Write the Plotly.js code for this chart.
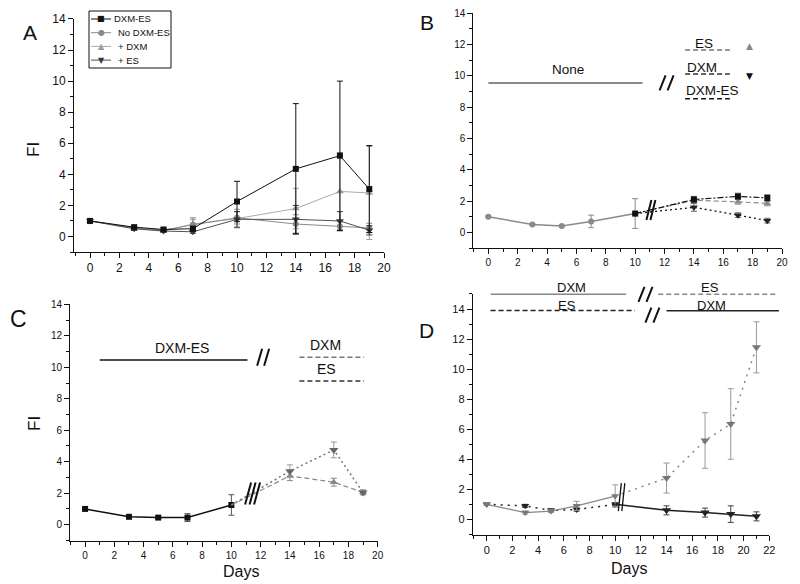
<!DOCTYPE html>
<html><head><meta charset="utf-8">
<script src="https://cdn.plot.ly/plotly-3.0.1.min.js"></script>
<style>html,body{margin:0;padding:0;background:#fff}</style>
</head><body><div id="chart" style="width:800px;height:584px"></div>
<script>
// ---------------- data ----------------
// Panel A
const daysA = [0, 3, 5, 7, 10, 14, 17, 19];
const dxmEsA = [1.0, 0.6, 0.45, 0.5, 2.25, 4.35, 5.2, 3.05];
const dxmEsAErr = [0.05, 0.1, 0.1, 0.15, 1.3, 4.2, 4.8, 2.8];
const noDxmEsA = [1.0, 0.55, 0.4, 0.75, 1.2, 0.8, 0.65, 0.55];
const noDxmEsAErr = [0.05, 0.1, 0.05, 0.45, 0.4, 0.6, 0.3, 0.3];
const plusDxmA = [1.0, 0.5, 0.35, 0.8, 1.15, 1.8, 2.9, 2.8];
const plusDxmAErr = [0.05, 0.1, 0.05, 0.3, 0.6, 1.3, 2.5, 3.0];
const plusEsA = [1.0, 0.5, 0.35, 0.3, 1.1, 1.1, 1.0, 0.4];
const plusEsAErr = [0.05, 0.1, 0.05, 0.1, 0.5, 0.9, 0.6, 0.3];
const legendA = ["DXM-ES", "No DXM-ES", "+ DXM", "+ ES"];

// Panel B
const daysPreB = [0, 3, 5, 7, 10];
const noneB = [1.0, 0.5, 0.4, 0.7, 1.2];
const noneBErr = [0.05, 0.05, 0.05, 0.4, 0.95];
const daysPostB = [10, 14, 17, 19];
const esB = [1.2, 2.05, 1.95, 1.85];
const esBErr = [0, 0.2, 0.15, 0.15];
const dxmB = [1.2, 1.6, 1.1, 0.75];
const dxmBErr = [0, 0.25, 0.15, 0.15];
const dxmEsB = [1.2, 2.1, 2.3, 2.2];
const dxmEsBErr = [0, 0.2, 0.2, 0.2];

// Panel C
const daysPreC = [0, 3, 5, 7, 10];
const dxmEsC = [1.0, 0.5, 0.45, 0.45, 1.25];
const dxmEsCErr = [0.05, 0.05, 0.05, 0.25, 0.65];
const daysPostC = [10, 14, 17, 19];
const dxmC = [1.25, 3.4, 4.75, 2.05];
const dxmCErr = [0, 0.4, 0.5, 0.15];
const esC = [1.25, 3.1, 2.7, 2.05];
const esCErr = [0, 0.3, 0.25, 0.15];

// Panel D
const daysPreD = [0, 3, 5, 7, 10];
const daysPostD = [10, 14, 17, 19, 21];
const dxmThenEsPre = [1.0, 0.45, 0.55, 0.9, 1.55];
const dxmThenEsPreErr = [0.05, 0.1, 0.1, 0.3, 0.75];
const dxmThenEsPost = [1.55, 2.75, 5.25, 6.35, 11.45];
const dxmThenEsPostErr = [0, 1.0, 1.85, 2.35, 1.7];
const esThenDxmPre = [1.0, 0.9, 0.6, 0.65, 1.0];
const esThenDxmPreErr = [0.05, 0.1, 0.1, 0.1, 0.1];
const esThenDxmPost = [1.0, 0.6, 0.45, 0.35, 0.2];
const esThenDxmPostErr = [0, 0.3, 0.3, 0.55, 0.3];

const xTicks = [0, 2, 4, 6, 8, 10, 12, 14, 16, 18, 20, 22];
const yTicks = [0, 2, 4, 6, 8, 10, 12, 14];

// ---------------- layout geometry ----------------
const W = 800, H = 584;
const G = {
  A: {x: 'x',  y: 'y',  xd: [0.0925, 0.48],   yd: [0.5685, 0.9675], xr: [-1.09, 20], yr: [-1, 14],    fs: 12},
  B: {x: 'x2', y: 'y2', xd: [0.5917, 0.9775], yd: [0.5748, 0.9772], xr: [-1.02, 20], yr: [-1.02, 14], fs: 10},
  C: {x: 'x3', y: 'y3', xd: [0.0875, 0.4721], yd: [0.0741, 0.4789], xr: [-1.03, 20], yr: [-1.02, 14], fs: 10},
  D: {x: 'x4', y: 'y4', xd: [0.5909, 0.9616], yd: [0.0839, 0.4966], xr: [-1.09, 22], yr: [-1.04, 15], fs: 11}
};
const FONT = 'Liberation Sans, Arial, Helvetica, sans-serif';

function toPaper(p, x, y) {
  const g = G[p];
  return [g.xd[0] + (x - g.xr[0]) / (g.xr[1] - g.xr[0]) * (g.xd[1] - g.xd[0]),
          g.yd[0] + (y - g.yr[0]) / (g.yr[1] - g.yr[0]) * (g.yd[1] - g.yd[0])];
}
const shapes = [];
const annotations = [];
function hline(p, x0, x1, y, color, width, dash) {
  const a = toPaper(p, x0, y), b = toPaper(p, x1, y);
  shapes.push({type: 'line', xref: 'paper', yref: 'paper', x0: a[0], x1: b[0], y0: a[1], y1: a[1],
    line: {color: color, width: width, dash: dash || 'solid'}});
}
function slashes(p, x, y, n, w, h, gap, width, color) {
  const c = toPaper(p, x, y);
  for (let i = 0; i < n; i++) {
    const off = (i - (n - 1) / 2) * gap;
    shapes.push({type: 'line', xref: 'paper', yref: 'paper',
      x0: c[0] + (off - w / 2) / W, y0: c[1] - h / 2 / H,
      x1: c[0] + (off + w / 2) / W, y1: c[1] + h / 2 / H,
      line: {color: color, width: width}});
  }
}
function label(p, x, y, text, size, extra) {
  const c = toPaper(p, x, y);
  annotations.push(Object.assign({xref: 'paper', yref: 'paper', x: c[0], y: c[1], text: text, showarrow: false,
    xanchor: 'center', yanchor: 'middle', font: {family: FONT, size: size, color: '#111'}}, extra || {}));
}
function pageText(px, py, text, size, extra) {
  annotations.push(Object.assign({xref: 'paper', yref: 'paper', x: px / W, y: 1 - py / H, text: text,
    showarrow: false, xanchor: 'center', yanchor: 'middle', font: {family: FONT, size: size, color: '#111'}}, extra || {}));
}

function tr(p, x, y, err, o) {
  const g = G[p];
  const t = {type: 'scatter', x: x, y: y, xaxis: g.x, yaxis: g.y, mode: o.mode || 'lines+markers',
    cliponaxis: false, hoverinfo: 'skip',
    line: {color: o.lc || o.c, width: o.lw || 1, dash: o.dash || 'solid'},
    marker: {color: o.c, symbol: o.sym || 'square', size: o.sz || 6}};
  if (err) t.error_y = {type: 'data', array: err, visible: true, color: o.ec || o.c, thickness: 1, width: 3};
  return t;
}

const traces = [];
// Panel A
traces.push(tr('A', daysA, plusDxmA, plusDxmAErr, {c: '#9a9a9a', lc: '#ababab', sym: 'triangle-up', sz: 7}));
traces.push(tr('A', daysA, noDxmEsA, noDxmEsAErr, {c: '#8a8a8a', sym: 'circle', sz: 6}));
traces.push(tr('A', daysA, plusEsA, plusEsAErr, {c: '#3a3a3a', lc: '#505050', sym: 'triangle-down', sz: 7}));
traces.push(tr('A', daysA, dxmEsA, dxmEsAErr, {c: '#111', sym: 'square', sz: 6}));

// Panel B
traces.push(tr('B', daysPreB, noneB, noneBErr, {c: '#8a8a8a', sym: 'circle', sz: 6, lw: 1.5}));
traces.push(tr('B', daysPostB, esB, null, {c: '#8a8a8a', mode: 'lines', dash: '5px,3px', lw: 1.2}));
traces.push(tr('B', daysPostB, dxmB, null, {c: '#111', mode: 'lines', dash: '2px,3px', lw: 1.3}));
traces.push(tr('B', daysPostB, dxmEsB, null, {c: '#111', mode: 'lines', dash: '6px,2px,2px,2px', lw: 1.2}));
traces.push(tr('B', daysPostB.slice(1), esB.slice(1), esBErr.slice(1), {c: '#8a8a8a', mode: 'markers', sym: 'triangle-up', sz: 7}));
traces.push(tr('B', daysPostB.slice(1), dxmB.slice(1), dxmBErr.slice(1), {c: '#222', ec: '#666', mode: 'markers', sym: 'triangle-down', sz: 7}));
traces.push(tr('B', daysPostB, dxmEsB, dxmEsBErr, {c: '#111', ec: '#666', mode: 'markers', sym: 'square', sz: 6}));

// Panel C
traces.push(tr('C', daysPreC, dxmEsC, dxmEsCErr, {c: '#111', ec: '#555', sym: 'square', sz: 6, lw: 1.5}));
traces.push(tr('C', daysPostC, dxmC, null, {c: '#777', mode: 'lines', dash: '2px,3px', lw: 1.5}));
traces.push(tr('C', daysPostC, esC, null, {c: '#888', mode: 'lines', dash: '5px,3px', lw: 1.2}));
traces.push(tr('C', daysPostC.slice(1), esC.slice(1), esCErr.slice(1), {c: '#888', ec: '#888', mode: 'markers', sym: 'triangle-up', sz: 7}));
traces.push(tr('C', daysPostC.slice(1), dxmC.slice(1), dxmCErr.slice(1), {c: '#666', ec: '#999', mode: 'markers', sym: 'triangle-down', sz: 8}));

// Panel D
traces.push(tr('D', daysPreD, esThenDxmPre, esThenDxmPreErr, {c: '#222', sym: 'triangle-down', sz: 7, dash: '2px,5px', lw: 1.5}));
traces.push(tr('D', daysPreD, dxmThenEsPre, dxmThenEsPreErr, {c: '#777', lc: '#888', ec: '#999', sym: 'triangle-down', sz: 7, lw: 1.2}));
traces.push(tr('D', daysPostD, dxmThenEsPost, null, {c: '#888', mode: 'lines', dash: '2px,5px', lw: 1.5}));
traces.push(tr('D', daysPostD, esThenDxmPost, null, {c: '#222', mode: 'lines', lw: 1.5}));
traces.push(tr('D', daysPostD.slice(1), dxmThenEsPost.slice(1), dxmThenEsPostErr.slice(1), {c: '#777', ec: '#999', mode: 'markers', sym: 'triangle-down', sz: 8}));
traces.push(tr('D', daysPostD.slice(1), esThenDxmPost.slice(1), esThenDxmPostErr.slice(1), {c: '#222', ec: '#444', mode: 'markers', sym: 'triangle-down', sz: 8}));

// ---------------- decorations ----------------
// Legend A (page pixel positions)
shapes.push({type: 'rect', xref: 'paper', yref: 'paper', x0: 89 / W, x1: 171 / W, y0: 1 - 68 / H, y1: 1 - 11 / H,
  line: {color: '#111', width: 1}, fillcolor: 'rgba(0,0,0,0)'});
const legStyle = [
  {lc: '#111', mc: '#111', sym: '■', tx: 112},
  {lc: '#8a8a8a', mc: '#8a8a8a', sym: '●', tx: 116},
  {lc: '#ababab', mc: '#9a9a9a', sym: '▲', tx: 116},
  {lc: '#505050', mc: '#3a3a3a', sym: '▼', tx: 116}
];
legendA.forEach((name, i) => {
  const py = 19 + i * 13.7;
  const s = legStyle[i];
  shapes.push({type: 'line', xref: 'paper', yref: 'paper', x0: 91 / W, x1: 111 / W, y0: 1 - py / H, y1: 1 - py / H,
    line: {color: s.lc, width: 1}});
  pageText(101, py, s.sym, 8, {font: {family: 'DejaVu Sans', size: 8, color: s.mc}});
  pageText(s.tx, py, name, 9.5, {xanchor: 'left'});
});

// Panel letters & axis titles
pageText(30, 32, 'A', 21);
pageText(427, 22, 'B', 21);
pageText(18, 319, 'C', 23);
pageText(427, 330, 'D', 21);
pageText(33, 150, 'FI', 17, {textangle: -90});
pageText(34, 424, 'FI', 17, {textangle: -90});
pageText(241, 571, 'Days', 16);
pageText(629, 568, 'Days', 16);

// Panel B header
hline('B', 0, 10.5, 9.55, '#8a8a8a', 2);
label('B', 5.4, 10.38, 'None', 13.5);
slashes('B', 12.14, 9.55, 2, 6, 15, 8, 2, '#111');
label('B', 14.7, 12.1, 'ES', 13.5);
hline('B', 13.4, 16.45, 11.65, '#777', 1.5, '5px,3px');
label('B', 14.57, 10.55, 'DXM', 13.5);
hline('B', 13.4, 16.45, 10.12, '#333', 1.5, '5px,3px');
label('B', 15.3, 9.05, 'DXM-ES', 13.5);
hline('B', 13.4, 16.45, 8.54, '#111', 1.5, '5px,3px');
label('B', 17.77, 11.9, '▲', 9, {font: {family: 'DejaVu Sans', size: 9, color: '#888'}});
label('B', 17.77, 9.99, '▼', 9, {font: {family: 'DejaVu Sans', size: 9, color: '#111'}});
slashes('B', 11.07, 1.43, 2, 5, 20, 4, 2, '#111');

// Panel C header
hline('C', 1.0, 11.1, 10.46, '#111', 1.5);
label('C', 6.6, 11.25, 'DXM-ES', 14);
slashes('C', 12.17, 10.64, 2, 5, 17, 7, 2, '#111');
label('C', 16.4, 11.42, 'DXM', 14);
hline('C', 14.65, 19.07, 10.63, '#777', 1.5, '5px,3px');
label('C', 16.52, 9.89, 'ES', 14);
hline('C', 14.65, 19.07, 9.13, '#333', 1.5, '5px,3px');
slashes('C', 11.45, 1.98, 3, 6, 22, 4.5, 2, '#111');

// Panel D header
hline('D', 0.3, 10.85, 14.98, '#888', 1.5);
label('D', 6.61, 15.45, 'DXM', 13);
hline('D', 0.3, 11.55, 13.9, '#222', 1.5, '5px,3px');
label('D', 6.23, 14.25, 'ES', 13);
slashes('D', 12.36, 14.97, 2, 6, 15, 8, 2, '#111');
slashes('D', 12.9, 13.6, 2, 6, 15, 8, 2, '#111');
hline('D', 13.35, 22.7, 14.98, '#888', 1.5, '5px,3px');
label('D', 17.38, 15.45, 'ES', 13);
hline('D', 14.0, 22.75, 13.88, '#222', 1.5);
label('D', 17.51, 14.25, 'DXM', 13);
slashes('D', 10.5, 1.48, 2, 3, 28, 3.5, 1.3, '#111');

// ---------------- axes ----------------
function axis(p, isX) {
  const g = G[p];
  return {
    domain: isX ? g.xd : g.yd, range: isX ? g.xr : g.yr, anchor: isX ? g.y : g.x,
    showgrid: false, zeroline: false, showline: true, linecolor: '#111', linewidth: 1,
    ticks: 'outside', ticklen: 5, tickwidth: 1, tickcolor: '#111',
    tickmode: 'array', tickvals: isX ? xTicks : yTicks,
    tickfont: {family: FONT, size: g.fs, color: '#111'},
    minor: {tickmode: 'linear', tick0: 0, dtick: 1, ticklen: 3, ticks: 'outside', tickcolor: '#111', tickwidth: 1, showgrid: false},
    fixedrange: true
  };
}
const layout = {
  width: W, height: H, margin: {l: 0, r: 0, t: 0, b: 0}, showlegend: false,
  paper_bgcolor: '#fff', plot_bgcolor: 'rgba(0,0,0,0)', font: {family: FONT, color: '#111'},
  xaxis: axis('A', true), yaxis: axis('A', false),
  xaxis2: axis('B', true), yaxis2: axis('B', false),
  xaxis3: axis('C', true), yaxis3: axis('C', false),
  xaxis4: axis('D', true), yaxis4: axis('D', false),
  shapes: shapes, annotations: annotations
};
Plotly.newPlot('chart', traces, layout, {staticPlot: true, displayModeBar: false});
</script></body></html>
